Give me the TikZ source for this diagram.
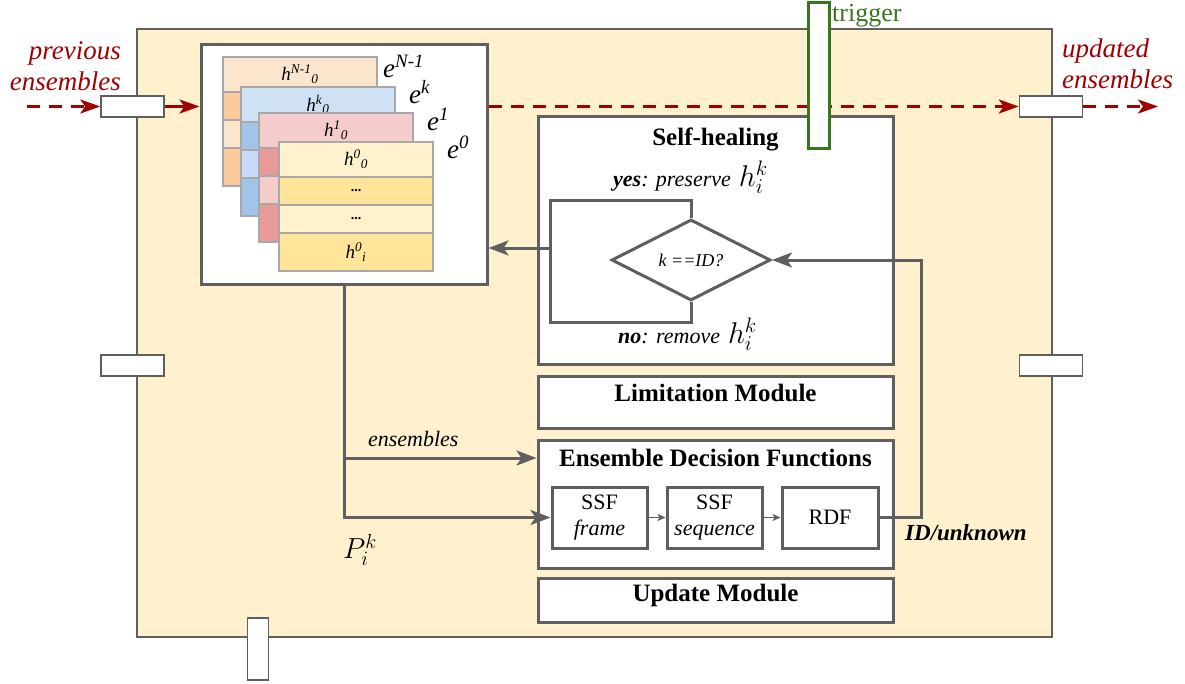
\RequirePackage{fix-cm}
\documentclass[tikz,border=0pt]{standalone}
\usepackage{fontspec}
\setmainfont{Liberation Serif}
\usetikzlibrary{arrows.meta,shapes.geometric,positioning}

\definecolor{linegray}{HTML}{5F5F5F}
\definecolor{cellgray}{HTML}{A8A8A8}
\definecolor{cream}{HTML}{FFF1CD}
\definecolor{darkred}{HTML}{A00000}
\definecolor{trigreen}{HTML}{38761D}
\definecolor{peachl}{HTML}{FCE5CD}
\definecolor{peachd}{HTML}{F9CB9C}
\definecolor{bluel}{HTML}{CFE2F3}
\definecolor{bluem}{HTML}{C9DAF8}
\definecolor{blued}{HTML}{9FC5E8}
\definecolor{redl}{HTML}{F4CCCC}
\definecolor{redd}{HTML}{EA9999}
\definecolor{goldl}{HTML}{FFF2CC}
\definecolor{goldd}{HTML}{FFE599}

\newcommand{\hlab}[2]{\textit{h}\textsuperscript{\textit{#1}}\textsubscript{\textit{#2}}}
\newcommand{\elab}[1]{\textit{e}\textsuperscript{\textit{#1}}}
\newcommand{\hmath}{{\fontsize{30}{34}\selectfont$h_i^k$}}

\tikzset{
     frame/.style = { draw=linegray, line width=1.5pt, fill=cream, inner sep=0pt },
      port/.style = { draw=linegray, line width=1.5pt, fill=white, inner sep=0pt,
                      minimum width=63pt, minimum height=21pt },
     vport/.style = { port, minimum width=21pt, minimum height=62pt },
    module/.style = { draw=linegray, line width=3pt, fill=white, inner sep=0pt },
        fn/.style = { module, minimum width=95pt, minimum height=61pt, align=center,
                      font=\fontsize{22}{26}\selectfont },
      cell/.style = { draw=cellgray, line width=1.5pt, minimum width=154pt, inner sep=0pt,
                      outer sep=0pt, anchor=north west, font=\fontsize{19}{21}\selectfont },
  decision/.style = { draw=linegray, line width=3pt, fill=white, diamond, aspect=2,
                      minimum width=159pt, minimum height=81pt, inner sep=0pt,
                      font=\fontsize{18}{20}\selectfont\itshape },
     title/.style = { font=\fontsize{25}{30}\selectfont\bfseries, inner sep=0pt },
      note/.style = { font=\fontsize{22}{26}\selectfont\itshape, inner sep=0pt, text=black },
   redtext/.style = { font=\fontsize{27}{31}\selectfont\itshape, text=darkred, inner sep=0pt },
      wire/.style = { line width=3pt, color=linegray },
     arrow/.style = { wire, -{Stealth[length=20pt,width=15pt,inset=5pt]} },
 thinarrow/.style = { line width=1.3pt, color=linegray, -{Stealth[length=8pt,width=7pt,inset=2pt]} },
  redarrow/.style = { line width=3pt, color=darkred, -{Stealth[length=20pt,width=14pt,inset=5pt]} },
   reddash/.style = { dash pattern=on 13pt off 9pt }
}

\begin{document}
\begin{tikzpicture}[x=1pt, y=-1pt]
  \useasboundingbox (0,0) rectangle (1185,683);

  % outer block and its ports
  \node[frame, minimum width=915pt, minimum height=608pt] (block) at (594.5,333) {};
  \node[port] (pLU) at (132.5,106.5) {};
  \node[port] (pLM) at (132.5,365.5) {};
  \node[port] (pRU) at (1051,106.5) {};
  \node[port] (pRM) at (1051,365.5) {};
  \node[vport] (pB) at (258,649) {};

  % stack of ensembles
  \node[module, minimum width=286pt, minimum height=240pt] (stack) at (344,164) {};
  \foreach \cx/\cy/\cl/\cm/\cd/\cn/\ck in
    {223/57/peachl/peachl/peachd/cN/N-1, 241/87/bluel/bluem/blued/ck/k,
     259/113/redl/redl/redd/c1/1, 279/142/goldl/goldl/goldd/c0/0}{
    \node[cell, fill=\cl, minimum height=35pt] (\cn-0) at (\cx,\cy) {\hlab{\ck}{0}};
    \node[cell, fill=\cd, minimum height=28pt, below=0pt of \cn-0] (\cn-1) {};
    \node[cell, fill=\cm, minimum height=28pt, below=0pt of \cn-1] (\cn-2) {};
    \node[cell, fill=\cd, minimum height=38pt, below=0pt of \cn-2] (\cn-3) {};
  }
  \node[font=\fontsize{14}{16}\selectfont\bfseries] (dotsA) at (c0-1) {...};
  \node[font=\fontsize{14}{16}\selectfont\bfseries] (dotsB) at (c0-2) {...};
  \node[font=\fontsize{19}{21}\selectfont] (hi0) at (c0-3) {\hlab{0}{i}};
  \foreach \ex/\ey/\ek in {383/77/N-1, 409/103/k, 427/130/1, 447/158/0}
    \node[anchor=base west, inner sep=0pt, font=\fontsize{27}{30}\selectfont] (e-\ek) at (\ex,\ey) {\elab{\ek}};

  % ensemble flow
  \coordinate (prevstart) at (27,106.5);
  \coordinate (updend) at (1158,106.5);
  \draw[redarrow, reddash] (prevstart) -- (pLU.west);
  \draw[redarrow] (pLU.east) -- (pLU.east -| stack.west);
  \draw[redarrow, reddash] (pLU.east -| stack.east) -- (pRU.west);
  \draw[redarrow, reddash] (pRU.east) -- (updend);
  \node[redtext, align=right, anchor=north east] (prevlab) at (121,41) {previous\\ensembles};
  \node[redtext, align=left, anchor=north west] (updlab) at (1062,39) {updated\\ensembles};

  % self-healing
  \node[module, minimum width=355pt, minimum height=248pt] (heal) at (715.5,240) {};
  \node[title, anchor=base] (healT) at (715.5,145) {Self-healing};
  \node[decision] (dia) at (691,260) {k ==ID?};
  \node[note, anchor=base west] (yes) at (613,186) {\textbf{yes}: preserve\hspace{8pt}\hmath};
  \node[note, anchor=base west] (no) at (618,343) {\textbf{no}: remove\hspace{8pt}\hmath};
  \coordinate (loopT) at (550,200);
  \coordinate (loopB) at (550,322);
  \coordinate (loopL) at (550,248);
  \draw[wire] (dia.north) |- (loopT) -- (loopB) -| (dia.south);
  \draw[arrow] (loopL) -- (loopL -| stack.east);

  % trigger
  \node[draw=trigreen, line width=3pt, fill=white, inner sep=0pt,
        minimum width=21pt, minimum height=146pt] (trigger) at (818.5,75) {};
  \node[anchor=base west, inner sep=0pt, text=trigreen,
        font=\fontsize{26}{30}\selectfont] (trigT) at (832,21) {trigger};

  % modules
  \node[module, title, minimum width=355pt, minimum height=52pt, text depth=18pt] (limit)
    at (715.5,402) {Limitation Module};
  \node[module, minimum width=355pt, minimum height=128pt] (edf) at (715.5,504) {};
  \node[title, anchor=base] (edfT) at (715.5,466) {Ensemble Decision Functions};
  \node[fn] (ssf1) at (599.5,517.5) {SSF\\\textit{frame}};
  \node[fn] (ssf2) at (714.5,517.5) {SSF\\\textit{sequence}};
  \node[fn, minimum width=96pt] (rdf) at (830,517.5) {RDF};
  \draw[thinarrow] (ssf1) -- (ssf2);
  \draw[thinarrow] (ssf2) -- (rdf);
  \node[module, title, minimum width=355pt, minimum height=44pt, text depth=14pt] (update)
    at (715.5,600) {Update Module};

  % decisions back to self-healing
  \coordinate (idturn) at (921,517.5);
  \draw[arrow] (rdf.east) -- (idturn) |- (dia.east);
  \node[note, font=\fontsize{23}{27}\selectfont\bfseries\itshape, anchor=base west] (idlab)
    at (905,540) {ID/unknown};

  % ensembles into the decision functions
  \coordinate (split) at (344,458);
  \draw[arrow] (stack.south) |- (ssf1.west);
  \draw[arrow] (split) -- (split -| edf.west) node[note, pos=0.36, above=10pt] (enslab) {ensembles};
  \node[font=\fontsize{29}{32}\selectfont] (pik) at (360,550) {$P_i^k$};
\end{tikzpicture}
\end{document}
